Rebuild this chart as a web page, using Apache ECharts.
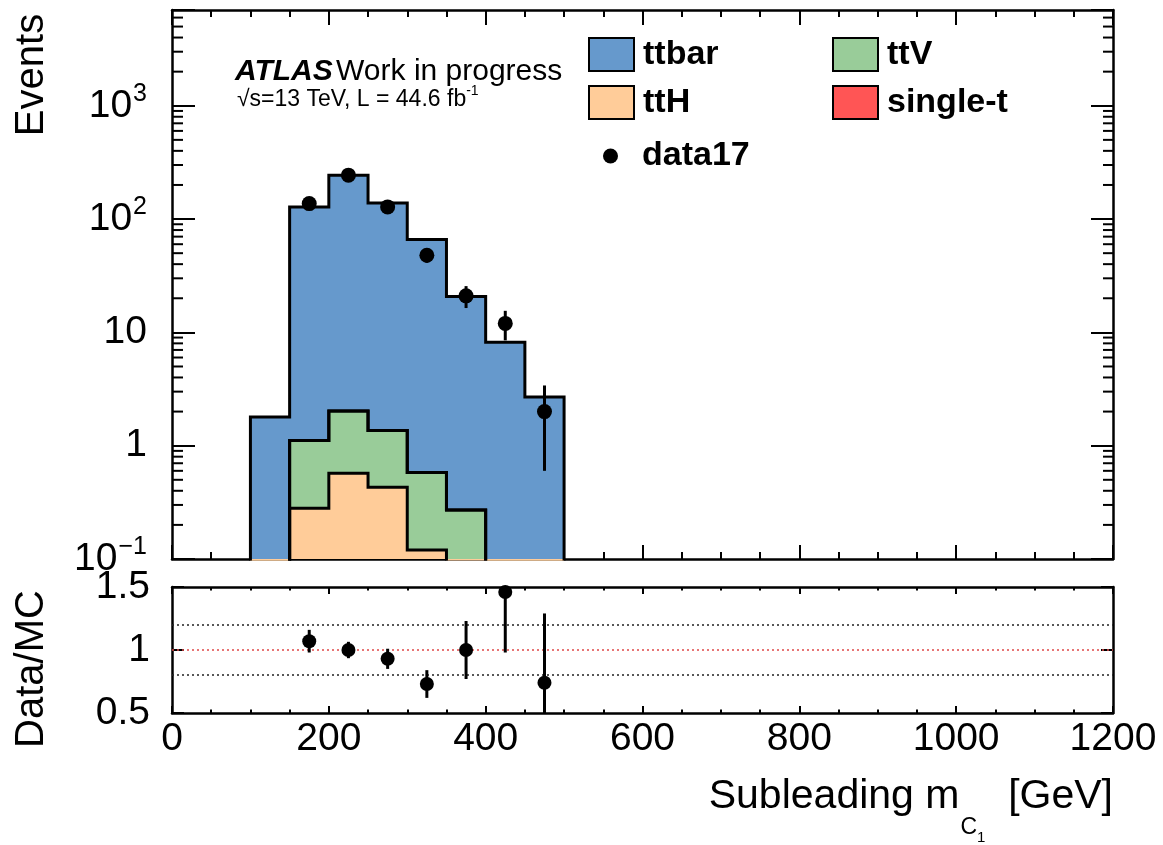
<!DOCTYPE html>
<html><head><meta charset="utf-8">
<script src="https://cdn.jsdelivr.net/npm/echarts@6/dist/echarts.min.js"></script>
<style>html,body{margin:0;padding:0;background:#fff}#c{width:1163px;height:845px}</style>
</head><body><div id="c"></div>
<script>
// ---- data (bins of 50 GeV) ----
const binEdges = [100,150,200,250,300,350,400,450,500];
const ttbar   = [1.79,126.9,242,137.6,65.4,20.5,8.2,2.69];
const ttV     = [0,0.83,1.45,0.93,0.46,0.27,0,0];
const ttH     = [0,0.28,0.57,0.43,0.12,0,0,0];
const singleT = [0,0,0,0,0,0,0,0];
const dataX   = [175,225,275,325,375,425,475];
const data17  = [137,244,128,48,21,12,2];
const data17Err = [11.7,15.6,11.3,6.9,4.6,3.5,1.4];
const ratio    = [1.07,1.00,0.93,0.73,1.00,1.46,0.74];
const ratioErr = [0.09,0.065,0.08,0.11,0.23,0.48,0.55];
const refLines = [1.2,1.0,0.8];
const xTickValues = [0,200,400,600,800,1000,1200];
const xTickLabels = ['0','200','400','600','800','1000','1200'];
const yDecades = [0.1,1,10,100,1000];
const yDecadeLabels = ['{b|10}{s|\u22121}','{b|1}','{b|10}','{b|10}{s|2}','{b|10}{s|3}'];
const ratioTickValues = [0.5,1,1.5];
const ratioLabels = ['0.5','1','1.5'];

const Y_MIN = 0.1, Y_MAX = 7000, FLOOR = 1e-3;
const FONT = 'Liberation Sans, Arial, Helvetica, sans-serif';
const COL = {ttbar:'#6699cc', ttV:'#99cc99', ttH:'#ffcc99', single:'#ff5555'};

// cumulative stack levels (bottom -> top: ttH, ttV, single-t, ttbar)
const lvH = ttH.slice();
const lvV = lvH.map((v,i)=>v+ttV[i]);
const lvS = lvV.map((v,i)=>v+singleT[i]);
const lvT = lvS.map((v,i)=>v+ttbar[i]);

function stepData(vals){
  const pts = [[binEdges[0], FLOOR]];
  vals.forEach((v,i)=>pts.push([binEdges[i], v>0 ? v : FLOOR]));
  pts.push([binEdges[binEdges.length-1], FLOOR]);
  return pts;
}
function histSeries(name, vals, color){
  return {name, type:'line', xAxisIndex:0, yAxisIndex:0, step:'end', symbol:'none',
    showSymbol:false, clip:true, silent:true, data:stepData(vals),
    itemStyle:{color}, lineStyle:{color:'#000', width:3, join:'miter'},
    areaStyle:{color, opacity:1, origin:'start'}};
}

// minor ticks for log axis (decoration)
const minorVals = [];
for (let k=-1;k<=3;k++) for (let m=2;m<=9;m++){ const v=m*Math.pow(10,k); if (v<Y_MAX) minorVals.push([0,v]); }

function lookup(vals, labels, v, log){
  const f = log ? Math.log10 : (x=>x);
  const i = vals.findIndex(t=>Math.abs(f(t)-f(v))<1e-6);
  return i>=0 ? labels[i] : '';
}

const axisLine = {show:true, onZero:false, lineStyle:{color:'#000', width:2.5}};
function xAx(grid, pos, tickLen, minorLen, showLabel){
  return {type:'value', gridIndex:grid, position:pos, min:0, max:1200, interval:200,
    axisLine, splitLine:{show:false},
    axisTick:{show:true, inside:true, length:tickLen, lineStyle:{color:'#000', width:2}},
    minorTick:{show:true, splitNumber:4, length:minorLen, lineStyle:{color:'#000', width:2}},
    axisLabel:{show:showLabel, fontSize:39, fontFamily:FONT, color:'#000', margin:7,
      formatter:v=>lookup(xTickValues, xTickLabels, v, false)}};
}
const black = {color:'#000', opacity:1};

const chart = echarts.init(document.getElementById('c'), null, {renderer:'canvas'});
chart.setOption({
  animation:false,
  backgroundColor:'#fff',
  grid:[
    {left:172, top:10, right:50, height:549, show:false},
    {left:172, top:587, right:50, height:126, show:false}
  ],
  xAxis:[ xAx(0,'bottom',14,7,false), xAx(0,'top',15,7,false), xAx(1,'bottom',7,3.5,true), xAx(1,'top',7,3.5,false) ],
  yAxis:[
    {type:'log', logBase:10, gridIndex:0, position:'left', min:Y_MIN, max:Y_MAX, axisLine, splitLine:{show:false},
     axisTick:{show:true, inside:true, length:23, lineStyle:{color:'#000', width:2}},
     minorTick:{show:false},
     axisLabel:{show:true, margin:25, color:'#000', fontFamily:FONT, formatter:v=>lookup(yDecades, yDecadeLabels, v, true),
       rich:{b:{fontSize:39, fontFamily:FONT, color:'#000'}, s:{fontSize:25, fontFamily:FONT, color:'#000', padding:[0,0,24,1]}}}},
    {type:'log', logBase:10, gridIndex:0, position:'right', min:Y_MIN, max:Y_MAX, axisLine, splitLine:{show:false},
     axisTick:{show:true, inside:true, length:22, lineStyle:{color:'#000', width:2}},
     minorTick:{show:false}, axisLabel:{show:false}},
    {type:'value', gridIndex:1, position:'left', min:0.5, max:1.5, interval:0.5, axisLine, splitLine:{show:false},
     axisTick:{show:true, inside:true, length:12, lineStyle:{color:'#000', width:2}},
     axisLabel:{show:true, margin:22, fontSize:39, fontFamily:FONT, color:'#000',
       formatter:v=>lookup(ratioTickValues, ratioLabels, v, false)}},
    {type:'value', gridIndex:1, position:'right', min:0.5, max:1.5, interval:0.5, axisLine, splitLine:{show:false},
     axisTick:{show:true, inside:true, length:12, lineStyle:{color:'#000', width:2}}, axisLabel:{show:false}}
  ],
  legend:[
    {orient:'vertical', left:583, top:32, itemWidth:45, itemHeight:33, itemGap:13, selectedMode:false,
     textStyle:{fontSize:34, fontWeight:'bold', fontFamily:FONT, color:'#000', padding:[0,0,0,4]},
     data:[{name:'ttbar', icon:'rect', itemStyle:{color:COL.ttbar, borderColor:'#000', borderWidth:2}},
           {name:'ttH', icon:'rect', itemStyle:{color:COL.ttH, borderColor:'#000', borderWidth:2}}]},
    {orient:'vertical', left:827, top:32, itemWidth:45, itemHeight:33, itemGap:13, selectedMode:false,
     textStyle:{fontSize:34, fontWeight:'bold', fontFamily:FONT, color:'#000', padding:[0,0,0,4]},
     data:[{name:'ttV', icon:'rect', itemStyle:{color:COL.ttV, borderColor:'#000', borderWidth:2}},
           {name:'single-t', icon:'rect', itemStyle:{color:COL.single, borderColor:'#000', borderWidth:2}}]},
    {orient:'vertical', left:598, top:134, itemWidth:15, itemHeight:15, selectedMode:false,
     textStyle:{fontSize:34, fontWeight:'bold', fontFamily:FONT, color:'#000', padding:[0,0,0,19]},
     data:[{name:'data17', icon:'circle', itemStyle:{color:'#000', opacity:1, borderWidth:0}}]}
  ],
  graphic:[
    {type:'text', x:32, y:75, rotation:Math.PI/2,
     style:{text:'Events', fontSize:40, fontFamily:FONT, fill:'#000', align:'center', verticalAlign:'middle'}},
    {type:'text', x:32, y:669, rotation:Math.PI/2,
     style:{text:'Data/MC', fontSize:40, fontFamily:FONT, fill:'#000', align:'center', verticalAlign:'middle'}},
    {type:'text', x:1113, y:797, style:{text:'{t|Subleading m}{c|C}{o|1}{t|  [GeV]}', align:'right', verticalAlign:'middle',
      rich:{t:{fontSize:41, fontFamily:FONT, fill:'#000'}, c:{fontSize:23, fontFamily:FONT, fill:'#000', padding:[62,0,0,1]},
            o:{fontSize:15, fontFamily:FONT, fill:'#000', padding:[82,0,0,0]}}}},
    {type:'text', x:235, y:72, style:{text:'{a|ATLAS} {w|Work in progress}', verticalAlign:'middle',
      rich:{a:{fontSize:30, fontWeight:'bold', fontStyle:'italic', fontFamily:FONT, fill:'#000'},
            w:{fontSize:30, fontFamily:FONT, fill:'#000'}}}},
    {type:'text', x:237, y:100, style:{text:'{n|\u221As=13 TeV, L = 44.6 fb}{s|-1}', verticalAlign:'middle',
      rich:{n:{fontSize:23, fontFamily:FONT, fill:'#000'}, s:{fontSize:14, fontFamily:FONT, fill:'#000', padding:[0,0,18,0]}}}}
  ],
  series:[
    histSeries('ttbar', lvT, COL.ttbar),
    histSeries('single-t', lvS, COL.single),
    histSeries('ttV', lvV, COL.ttV),
    histSeries('ttH', lvH, COL.ttH),
    {name:'minorTicks', type:'custom', xAxisIndex:0, yAxisIndex:0, silent:true, clip:false, data:minorVals, z:5,
     renderItem:(params, api)=>{
       const y = api.coord([0, api.value(1)])[1];
       const cs = params.coordSys;
       return {type:'group', children:[
         {type:'line', shape:{x1:cs.x, y1:y, x2:cs.x+11, y2:y}, style:{stroke:'#000', lineWidth:2}},
         {type:'line', shape:{x1:cs.x+cs.width-10, y1:y, x2:cs.x+cs.width, y2:y}, style:{stroke:'#000', lineWidth:2}}]};
     }},
    {name:'data17err', type:'custom', xAxisIndex:0, yAxisIndex:0, silent:true, clip:true, z:6,
     data:dataX.map((x,i)=>[x, data17[i]-data17Err[i], data17[i]+data17Err[i]]),
     renderItem:(params, api)=>{
       const lo = api.coord([api.value(0), api.value(1)]), hi = api.coord([api.value(0), api.value(2)]);
       return {type:'line', shape:{x1:lo[0], y1:lo[1], x2:hi[0], y2:hi[1]}, style:{stroke:'#000', lineWidth:3}};
     }},
    {name:'data17', type:'scatter', xAxisIndex:0, yAxisIndex:0, symbol:'circle', symbolSize:15, z:7, silent:true,
     itemStyle:black, data:dataX.map((x,i)=>[x, data17[i]])},
    {name:'refLines', type:'line', xAxisIndex:2, yAxisIndex:2, data:[], silent:true, z:1,
     markLine:{silent:true, symbol:['none','none'], label:{show:false},
       data:refLines.map(v=>({yAxis:v, lineStyle:{color: v===1 ? '#e04848' : '#222', type:[2,3], width:1.5}}))}},
    {name:'ratioErr', type:'custom', xAxisIndex:2, yAxisIndex:2, silent:true, clip:true, z:6,
     data:dataX.map((x,i)=>[x, Math.max(0.5, ratio[i]-ratioErr[i]), Math.min(1.5, ratio[i]+ratioErr[i])]),
     renderItem:(params, api)=>{
       const lo = api.coord([api.value(0), api.value(1)]), hi = api.coord([api.value(0), api.value(2)]);
       return {type:'line', shape:{x1:lo[0], y1:lo[1], x2:hi[0], y2:hi[1]}, style:{stroke:'#000', lineWidth:3}};
     }},
    {name:'ratio', type:'scatter', xAxisIndex:2, yAxisIndex:2, symbol:'circle', symbolSize:14, z:7, silent:true,
     itemStyle:black, data:dataX.map((x,i)=>[x, ratio[i]])}
  ]
});
</script></body></html>
